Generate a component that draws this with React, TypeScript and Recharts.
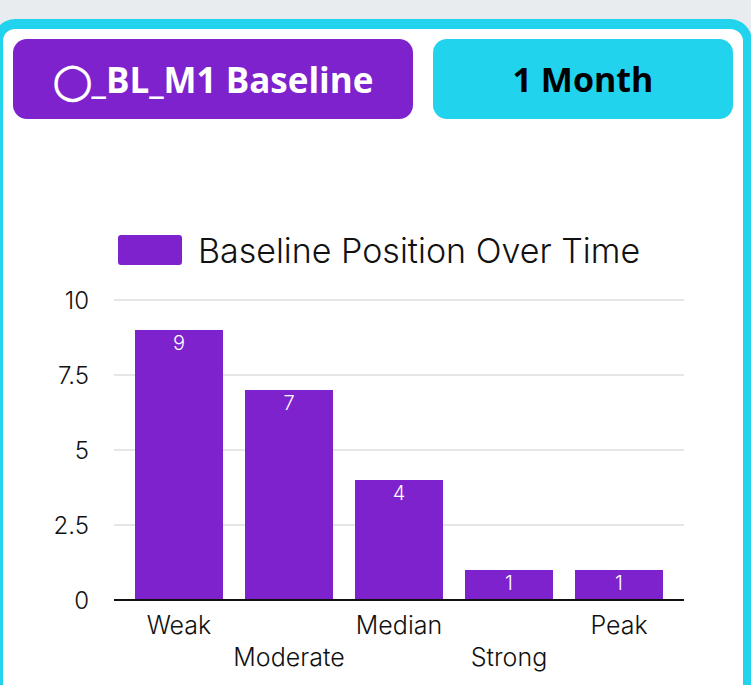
import React from "react";
import { BarChart, Bar, XAxis, YAxis, CartesianGrid, Legend, LabelList } from "recharts";

const categories = ["Weak", "Moderate", "Median", "Strong", "Peak"];
const baselineValues = [9, 7, 4, 1, 1];
const yTicks = [0, 2.5, 5, 7.5, 10];

const PURPLE = "#7e22ce";
const CYAN = "#22d3ee";
const FONT = "Inter, 'Open Sans', sans-serif";

const data = categories.map((name, i) => ({ name, value: baselineValues[i] }));

function StaggeredTick(props: any) {
  const { x, y, payload, index } = props;
  const dy = index % 2 === 0 ? 26 : 58;
  return (
    <text x={x} y={y + dy} textAnchor="middle" fill="#111" fontSize={25} fontFamily={FONT} fontWeight={300}>
      {payload.value}
    </text>
  );
}

function LegendBox() {
  return (
    <div style={{ display: "flex", alignItems: "center", justifyContent: "center", height: 60 }}>
      <div style={{ width: 64, height: 30, background: PURPLE, borderRadius: 3, marginRight: 16 }} />
      <span style={{ fontSize: 34, fontFamily: FONT, color: "#111", fontWeight: 300 }}>
        Baseline Position Over Time
      </span>
    </div>
  );
}

export default function App() {
  return (
    <div
      style={{
        position: "fixed",
        left: 0,
        top: 0,
        width: 751,
        height: 685,
        background: "#e9ecef",
        overflow: "hidden",
      }}
    >
      <div
        style={{
          position: "absolute",
          left: -7,
          top: 19,
          width: 740,
          height: 700,
          border: `10px solid ${CYAN}`,
          borderRight: `9px solid ${CYAN}`,
          borderRadius: 22,
          background: "#fff",
        }}
      />
      <div
        style={{
          position: "absolute",
          left: 13,
          top: 39,
          width: 400,
          height: 80,
          borderRadius: 14,
          background: PURPLE,
          color: "#fff",
          display: "flex",
          alignItems: "center",
          justifyContent: "center",
          fontFamily: "'Open Sans', sans-serif",
          fontWeight: 700,
          fontSize: 35,
        }}
      >
        ◯_BL_M1 Baseline
      </div>
      <div
        style={{
          position: "absolute",
          left: 433,
          top: 39,
          width: 300,
          height: 80,
          borderRadius: 14,
          background: CYAN,
          color: "#000",
          display: "flex",
          alignItems: "center",
          justifyContent: "center",
          fontFamily: "'Open Sans', sans-serif",
          fontWeight: 700,
          fontSize: 34,
        }}
      >
        1 Month
      </div>
      <div style={{ position: "absolute", left: 0, top: 220 }}>
        <BarChart
          width={751}
          height={465}
          data={data}
          margin={{ top: 20, right: 67, bottom: 25, left: 0 }}
        >
          <Legend
            verticalAlign="top"
            align="center"
            wrapperStyle={{ top: 0, left: 37 }}
            content={<LegendBox />}
          />
          <CartesianGrid vertical={false} stroke="#e6e6e6" strokeWidth={2} />
          <XAxis
            dataKey="name"
            height={60}
            padding={{ left: 10, right: 10 }}
            axisLine={{ stroke: "#111", strokeWidth: 2 }}
            tickLine={false}
            interval={0}
            tick={<StaggeredTick />}
          />
          <YAxis
            width={114}
            domain={[0, 10]}
            ticks={yTicks}
            axisLine={false}
            tickLine={false}
            tickSize={0}
            tickMargin={25}
            tick={{ fill: "#111", fontSize: 24, fontFamily: FONT, fontWeight: 300 }}
          />
          <Bar dataKey="value" fill={PURPLE} barSize={88} isAnimationActive={false}>
            <LabelList
              dataKey="value"
              position="insideTop"
              offset={6}
              fill="#fff"
              fontSize={20}
              fontFamily={FONT}
              fontWeight={300}
            />
          </Bar>
        </BarChart>
      </div>
    </div>
  );
}
